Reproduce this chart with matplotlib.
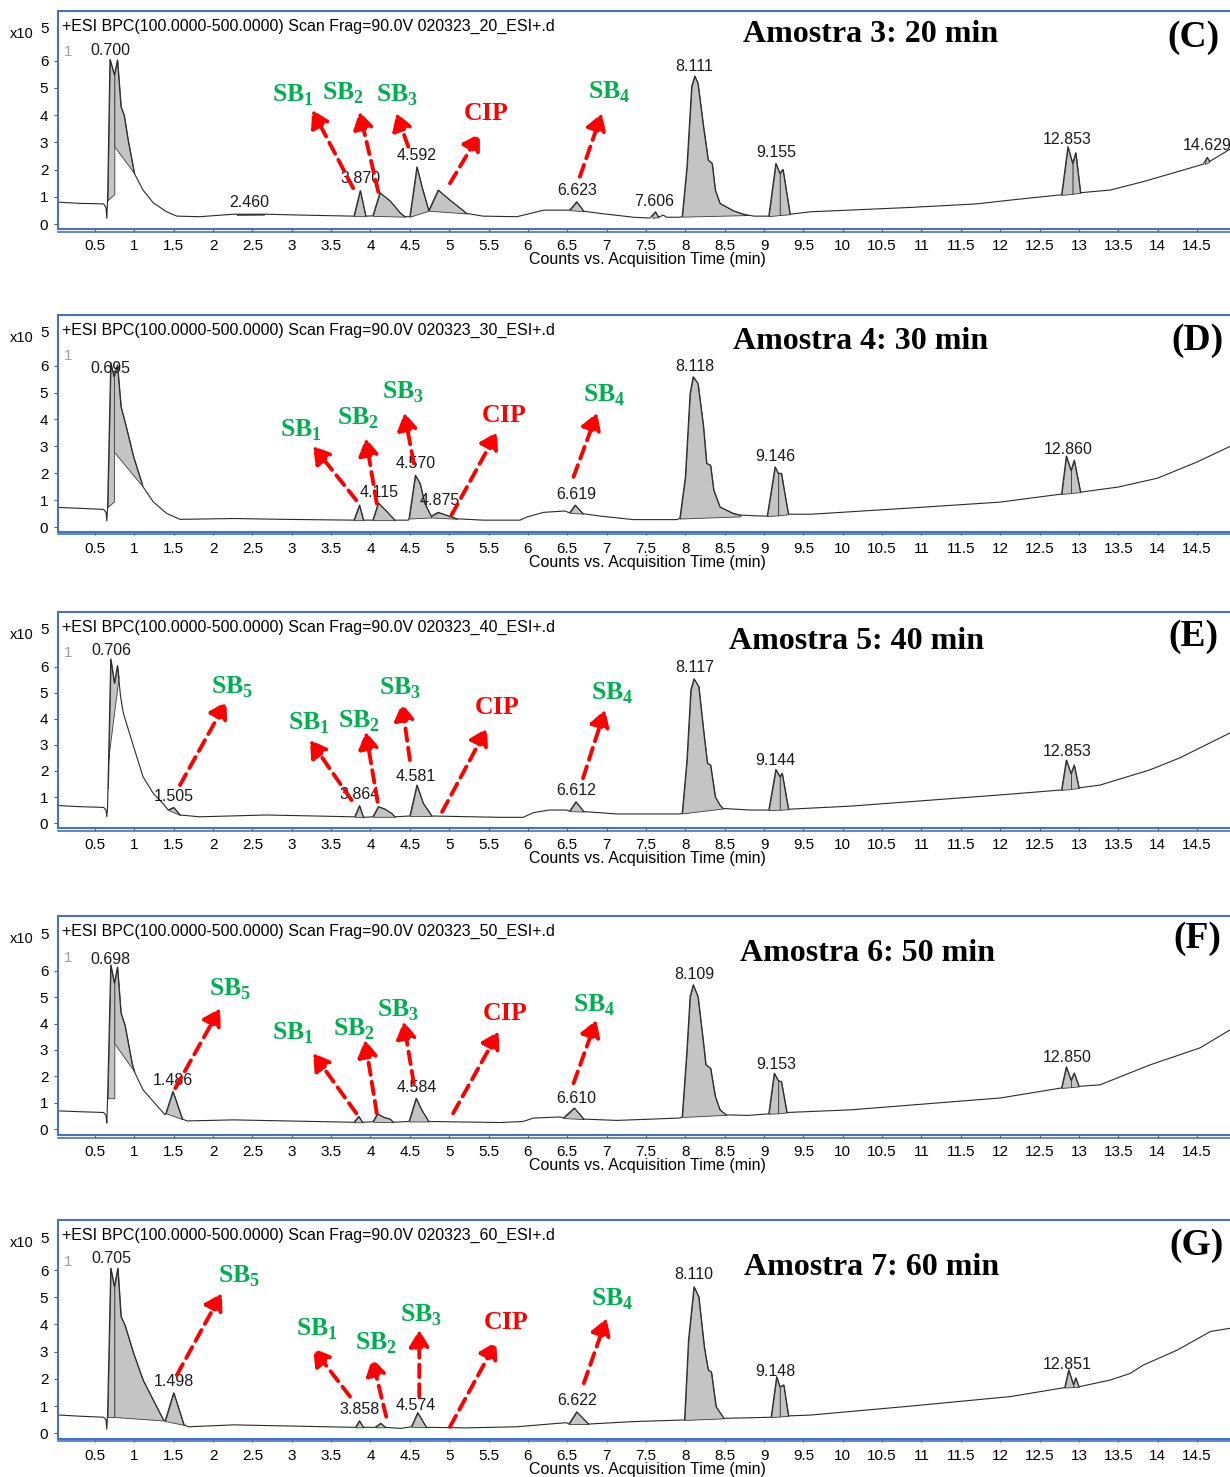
import numpy as np
import matplotlib.pyplot as plt

plt.rcParams['font.family'] = ['Liberation Sans', 'DejaVu Sans']
plt.rcParams['mathtext.fontset'] = 'custom'
plt.rcParams['mathtext.rm'] = 'Liberation Serif'
plt.rcParams['mathtext.bf'] = 'Liberation Serif:bold'

# ---- Amostra 3 (20 min) ----
c_time = [0.05, 0.30, 0.61, 0.64, 0.65, 0.66, 0.69, 0.746, 0.785, 0.83, 0.87, 0.92, 1.00,
          1.11, 1.24, 1.41, 1.54, 1.83, 2.26, 2.68, 3.10, 3.78, 3.79, 3.87, 3.94, 4.03, 4.12,
          4.25, 4.38, 4.44, 4.50, 4.59, 4.66, 4.74, 4.86, 5.01, 5.18, 5.22, 5.43, 5.86, 5.99,
          6.20, 6.49, 6.53, 6.62, 6.71, 6.92, 7.34, 7.55, 7.62, 7.66, 7.72, 7.76, 7.93, 7.96,
          8.02, 8.08, 8.12, 8.16, 8.23, 8.29, 8.34, 8.38, 8.44, 8.61, 8.74, 8.87, 9.06, 9.15,
          9.20, 9.24, 9.33, 9.59, 10.86, 11.70, 12.13, 12.76, 12.78, 12.86, 12.92, 12.96, 13.02,
          13.40, 13.82, 14.25, 14.58, 14.63, 14.66, 14.92, 15.10]
c_counts = [0.80, 0.76, 0.74, 0.60, 0.21, 0.90, 6.05, 5.48, 6.03, 4.31, 4.00, 3.09, 1.86,
            1.25, 0.78, 0.45, 0.29, 0.27, 0.36, 0.36, 0.33, 0.29, 0.29, 1.23, 0.29, 0.30, 1.15,
            0.85, 0.40, 0.27, 0.27, 2.10, 1.30, 0.49, 1.25, 0.88, 0.49, 0.39, 0.29, 0.27, 0.36,
            0.51, 0.51, 0.51, 0.82, 0.47, 0.39, 0.25, 0.22, 0.45, 0.25, 0.33, 0.25, 0.25, 0.27,
            2.10, 5.05, 5.44, 5.17, 3.58, 2.35, 2.23, 1.25, 0.76, 0.49, 0.36, 0.29, 0.29, 2.23,
            1.86, 2.01, 0.36, 0.45, 0.61, 0.74, 0.88, 1.07, 1.07, 2.84, 2.23, 2.62, 1.15,
            1.25, 1.56, 1.92, 2.20, 2.45, 2.30, 2.75, 2.95]
c_peaks = [(0.66, 0.746, 0.88, 1.10), (0.746, 1.00, 2.85, 1.86), (2.30, 2.65, 0.34, 0.35),
           (3.79, 3.94, 0.29, 0.29), (4.03, 4.44, 0.30, 0.27), (4.50, 4.74, 0.27, 0.49),
           (4.74, 5.22, 0.49, 0.39), (6.53, 6.71, 0.51, 0.47), (7.58, 7.66, 0.23, 0.25),
           (7.96, 8.80, 0.27, 0.33), (9.06, 9.20, 0.29, 0.33), (9.20, 9.33, 0.33, 0.36),
           (12.78, 12.92, 1.07, 1.11), (12.92, 13.02, 1.11, 1.15), (14.60, 14.66, 2.20, 2.30)]
c_rt = [0.700, 2.460, 3.870, 4.592, 6.623, 7.606, 8.111, 9.155, 12.853, 14.629]

# ---- Amostra 4 (30 min) ----
d_time = [0.05, 0.30, 0.61, 0.64, 0.65, 0.66, 0.70, 0.74, 0.785, 0.83, 0.88, 0.99, 1.11,
          1.24, 1.41, 1.58, 2.26, 2.89, 3.78, 3.79, 3.86, 3.91, 4.03, 4.10, 4.21, 4.31, 4.48,
          4.49, 4.57, 4.63, 4.69, 4.77, 4.86, 5.10, 5.43, 5.90, 5.99, 6.20, 6.47, 6.53, 6.60,
          6.70, 6.92, 7.34, 7.89, 7.93, 8.00, 8.06, 8.10, 8.16, 8.23, 8.27, 8.32, 8.36, 8.44,
          8.61, 8.70, 8.90, 9.04, 9.14, 9.18, 9.22, 9.27, 9.31, 9.60, 10.80, 12.00, 12.78,
          12.84, 12.90, 12.94, 13.02, 13.50, 14.00, 14.50, 14.92, 15.10]
d_counts = [0.73, 0.70, 0.66, 0.55, 0.23, 0.75, 6.11, 5.59, 6.02, 4.47, 3.92, 2.61, 1.50,
            0.94, 0.51, 0.29, 0.32, 0.29, 0.26, 0.26, 0.82, 0.26, 0.26, 0.90, 0.57, 0.26, 0.26,
            0.32, 1.93, 1.62, 0.88, 0.41, 0.55, 0.31, 0.26, 0.26, 0.38, 0.55, 0.60, 0.53, 0.82,
            0.50, 0.41, 0.28, 0.28, 0.32, 1.87, 4.97, 5.59, 5.34, 3.73, 2.37, 2.30, 1.38, 0.75,
            0.51, 0.45, 0.42, 0.41, 2.24, 2.00, 2.00, 1.13, 0.48, 0.48, 0.70, 0.93, 1.23,
            2.64, 2.10, 2.49, 1.30, 1.49, 1.82, 2.42, 3.00, 3.10]
d_peaks = [(0.66, 0.74, 0.75, 0.95), (0.74, 1.10, 2.80, 1.53), (3.79, 3.91, 0.26, 0.26),
           (4.03, 4.31, 0.26, 0.26), (4.49, 4.77, 0.32, 0.36), (4.77, 5.10, 0.36, 0.31),
           (6.53, 6.70, 0.53, 0.50), (7.93, 8.70, 0.32, 0.40), (9.04, 9.18, 0.41, 0.44),
           (9.18, 9.31, 0.44, 0.48), (12.78, 12.90, 1.23, 1.27), (12.90, 13.02, 1.27, 1.30)]
d_rt = [0.695, 4.115, 4.570, 4.875, 6.619, 8.118, 9.146, 12.860]

# ---- Amostra 5 (40 min) ----
e_time = [0.05, 0.30, 0.61, 0.64, 0.65, 0.66, 0.70, 0.746, 0.785, 0.825, 0.86, 0.99, 1.11,
          1.24, 1.37, 1.43, 1.50, 1.58, 1.83, 2.68, 3.78, 3.80, 3.86, 3.91, 4.03, 4.10, 4.19,
          4.27, 4.31, 4.50, 4.59, 4.67, 4.78, 5.65, 5.94, 6.07, 6.27, 6.49, 6.53, 6.61, 6.71,
          7.13, 7.93, 7.96, 8.02, 8.07, 8.11, 8.17, 8.24, 8.28, 8.32, 8.38, 8.44, 8.48, 8.82,
          9.06, 9.15, 9.20, 9.23, 9.31, 10.10, 12.00, 12.78, 12.84, 12.90, 12.94, 13.00,
          13.27, 13.90, 14.28, 14.92, 15.10]
e_counts = [0.67, 0.63, 0.60, 0.50, 0.24, 0.63, 6.30, 5.37, 6.04, 4.86, 4.22, 2.94, 1.78,
            1.14, 0.73, 0.50, 0.60, 0.31, 0.24, 0.31, 0.24, 0.24, 0.67, 0.22, 0.24, 0.63, 0.53,
            0.37, 0.24, 0.27, 1.46, 0.76, 0.27, 0.22, 0.22, 0.40, 0.50, 0.50, 0.46, 0.82, 0.44,
            0.35, 0.35, 0.37, 2.42, 5.12, 5.54, 5.24, 3.32, 2.30, 2.23, 1.01, 0.69, 0.56, 0.50,
            0.50, 2.06, 1.78, 1.91, 0.53, 0.65, 1.08, 1.27, 2.42, 1.90, 2.23, 1.35,
            1.46, 2.04, 2.50, 3.46, 3.60]
e_peaks = [(0.665, 0.80, 2.40, 5.60), (1.43, 1.58, 0.50, 0.31), (3.80, 3.91, 0.24, 0.22),
           (4.03, 4.31, 0.24, 0.24), (4.50, 4.78, 0.27, 0.27), (6.53, 6.71, 0.46, 0.44),
           (7.96, 8.48, 0.37, 0.56), (9.06, 9.20, 0.50, 0.51), (9.20, 9.31, 0.51, 0.53),
           (12.78, 12.90, 1.27, 1.31), (12.90, 13.00, 1.31, 1.35)]
e_rt = [0.706, 1.505, 3.864, 4.581, 6.612, 8.117, 9.144, 12.853]

# ---- Amostra 6 (50 min) ----
f_time = [0.05, 0.30, 0.61, 0.64, 0.65, 0.66, 0.70, 0.746, 0.785, 0.83, 0.88, 0.97, 1.00,
          1.11, 1.24, 1.39, 1.40, 1.49, 1.61, 1.67, 2.26, 3.78, 3.79, 3.85, 3.90, 4.03, 4.09,
          4.17, 4.25, 4.29, 4.49, 4.58, 4.65, 4.74, 5.65, 5.94, 6.07, 6.41, 6.45, 6.59, 6.71,
          7.13, 7.93, 7.96, 8.02, 8.06, 8.10, 8.16, 8.23, 8.26, 8.32, 8.38, 8.44, 8.52, 8.80,
          9.06, 9.13, 9.18, 9.22, 9.29, 10.10, 12.00, 12.78, 12.84, 12.90, 12.94, 13.00,
          13.27, 13.90, 14.54, 14.92, 15.10]
f_counts = [0.69, 0.66, 0.63, 0.52, 0.23, 1.17, 6.22, 5.53, 6.14, 4.39, 3.95, 2.50, 2.18,
            1.49, 1.05, 0.54, 0.60, 1.43, 0.38, 0.31, 0.35, 0.26, 0.26, 0.48, 0.26, 0.28, 0.58,
            0.45, 0.38, 0.26, 0.29, 1.17, 0.73, 0.29, 0.25, 0.29, 0.42, 0.46, 0.42, 0.80, 0.38,
            0.33, 0.42, 0.46, 3.00, 5.02, 5.47, 5.02, 3.26, 2.44, 2.31, 1.24, 0.73, 0.54, 0.52,
            0.58, 2.12, 1.84, 1.80, 0.63, 0.73, 1.18, 1.56, 2.36, 1.85, 2.13, 1.62,
            1.68, 2.43, 3.08, 3.76, 3.90]
f_peaks = [(0.66, 0.746, 1.17, 1.17), (0.746, 1.00, 3.25, 2.18), (1.40, 1.61, 0.60, 0.38),
           (3.79, 3.90, 0.26, 0.26), (4.03, 4.29, 0.28, 0.26), (4.49, 4.74, 0.29, 0.29),
           (6.45, 6.71, 0.42, 0.38), (7.96, 8.52, 0.46, 0.54), (9.06, 9.18, 0.58, 0.60),
           (9.18, 9.29, 0.60, 0.63), (12.78, 12.90, 1.56, 1.59), (12.90, 13.00, 1.59, 1.62)]
f_rt = [0.698, 1.486, 4.584, 6.610, 8.109, 9.153, 12.850]

# ---- Amostra 7 (60 min) ----
g_time = [0.05, 0.30, 0.61, 0.64, 0.65, 0.66, 0.70, 0.746, 0.79, 0.83, 0.88, 0.99, 1.11,
          1.24, 1.37, 1.39, 1.50, 1.63, 1.69, 2.26, 3.78, 3.81, 3.86, 3.91, 4.06, 4.13, 4.19,
          4.38, 4.52, 4.60, 4.71, 5.22, 5.86, 6.27, 6.49, 6.52, 6.62, 6.77, 7.34, 7.98, 7.99,
          8.04, 8.11, 8.17, 8.24, 8.29, 8.33, 8.39, 8.49, 8.80, 9.09, 9.16, 9.20, 9.25, 9.31,
          9.59, 10.86, 12.13, 12.82, 12.87, 12.93, 12.96, 13.00, 13.40, 13.65, 13.82, 14.25,
          14.67, 14.92, 15.10]
g_counts = [0.67, 0.63, 0.59, 0.50, 0.15, 0.74, 6.07, 5.39, 6.07, 4.29, 3.98, 2.94, 1.96,
            1.22, 0.49, 0.45, 1.49, 0.31, 0.24, 0.31, 0.22, 0.22, 0.46, 0.22, 0.22, 0.37, 0.22,
            0.18, 0.24, 0.76, 0.22, 0.20, 0.24, 0.34, 0.39, 0.34, 0.79, 0.34, 0.43, 0.49, 0.49,
            3.43, 5.39, 5.02, 3.18, 2.33, 2.26, 0.98, 0.55, 0.57, 0.59, 2.08, 1.71, 1.78, 0.64,
            0.67, 1.00, 1.35, 1.68, 2.33, 1.79, 2.04, 1.71, 1.96, 2.20, 2.51, 3.06,
            3.74, 3.86, 3.95]
g_peaks = [(0.66, 0.746, 0.60, 0.60), (0.746, 1.37, 0.60, 0.47), (1.39, 1.63, 0.45, 0.31),
           (3.81, 3.91, 0.22, 0.22), (4.06, 4.19, 0.22, 0.22), (4.52, 4.71, 0.24, 0.22),
           (6.52, 6.77, 0.34, 0.34), (7.99, 8.49, 0.49, 0.55), (9.09, 9.20, 0.59, 0.62),
           (9.20, 9.31, 0.62, 0.64), (12.82, 12.93, 1.68, 1.70), (12.93, 13.00, 1.70, 1.71)]
g_rt = [0.705, 1.498, 3.858, 4.574, 6.622, 8.110, 9.148, 12.851]

# annotation layout: (name, subscript, label pos, arrow tail, arrow head) in data coords
c_notes = [('SB', '1', (3.02, 4.74), (3.78, 1.32), (3.26, 4.19)),
           ('SB', '2', (3.65, 4.80), (4.10, 1.18), (3.86, 4.13)),
           ('SB', '3', (4.34, 4.74), (4.48, 2.84), (4.33, 4.08)),
           ('CIP', '', (5.47, 4.08), (5.01, 1.50), (5.39, 3.33)),
           ('SB', '4', (7.03, 4.85), (6.66, 1.74), (6.94, 4.07))]
d_notes = [('SB', '1', (3.12, 3.60), (3.82, 1.00), (3.27, 3.01)),
           ('SB', '2', (3.84, 4.05), (4.08, 0.88), (3.94, 3.30)),
           ('SB', '3', (4.41, 5.02), (4.55, 2.37), (4.43, 4.25)),
           ('CIP', '', (5.69, 4.16), (5.03, 0.45), (5.61, 3.54)),
           ('SB', '4', (6.97, 4.90), (6.58, 1.87), (6.88, 4.25))]
e_notes = [('SB', '5', (2.24, 5.23), (1.58, 1.46), (2.17, 4.67)),
           ('SB', '1', (3.22, 3.85), (3.76, 0.88), (3.23, 3.19)),
           ('SB', '2', (3.85, 3.92), (4.09, 0.82), (3.94, 3.51)),
           ('SB', '3', (4.38, 5.19), (4.50, 2.42), (4.40, 4.60)),
           ('CIP', '', (5.61, 4.46), (4.91, 0.43), (5.48, 3.64)),
           ('SB', '4', (7.07, 5.00), (6.70, 1.72), (6.98, 4.35))]
f_notes = [('SB', '5', (2.22, 5.30), (1.52, 1.55), (2.09, 4.58)),
           ('SB', '1', (3.02, 3.65), (3.82, 0.60), (3.27, 2.88)),
           ('SB', '2', (3.79, 3.80), (4.08, 0.60), (3.93, 3.38)),
           ('SB', '3', (4.35, 4.50), (4.55, 1.74), (4.42, 4.08)),
           ('CIP', '', (5.71, 4.39), (5.05, 0.60), (5.63, 3.70)),
           ('SB', '4', (6.84, 4.70), (6.58, 1.74), (6.87, 4.14))]
g_notes = [('SB', '5', (2.33, 5.76), (1.54, 2.14), (2.11, 5.15)),
           ('SB', '1', (3.32, 3.84), (3.74, 1.35), (3.27, 3.12)),
           ('SB', '2', (4.07, 3.32), (4.20, 0.61), (4.02, 2.76)),
           ('SB', '3', (4.64, 4.35), (4.62, 1.35), (4.62, 3.80)),
           ('CIP', '', (5.72, 4.09), (5.01, 0.24), (5.60, 3.37)),
           ('SB', '4', (7.07, 4.93), (6.71, 1.84), (7.00, 4.23))]

panels = [
    dict(time=c_time, counts=c_counts, peaks=c_peaks, rt=c_rt, notes=c_notes, run='20',
         title='Amostra 3: 20 min', title_xy=(10.35, 6.95), tag='(C)', tag_xy=(14.46, 6.87),
         rect=[0.04715, 0.8450, 0.958, 0.1476], ylim=(-0.18, 7.83)),
    dict(time=d_time, counts=d_counts, peaks=d_peaks, rt=d_rt, notes=d_notes, run='30',
         title='Amostra 4: 30 min', title_xy=(10.22, 6.90), tag='(D)', tag_xy=(14.50, 6.95),
         rect=[0.04715, 0.6400, 0.958, 0.1467], ylim=(-0.17, 7.88)),
    dict(time=e_time, counts=e_counts, peaks=e_peaks, rt=e_rt, notes=e_notes, run='40',
         title='Amostra 5: 40 min', title_xy=(10.18, 6.96), tag='(E)', tag_xy=(14.45, 7.15),
         rect=[0.04715, 0.4394, 0.958, 0.1462], ylim=(-0.19, 8.10)),
    dict(time=f_time, counts=f_counts, peaks=f_peaks, rt=f_rt, notes=f_notes, run='50',
         title='Amostra 6: 50 min', title_xy=(10.31, 6.64), tag='(F)', tag_xy=(14.50, 7.24),
         rect=[0.04715, 0.2316, 0.958, 0.1483], ylim=(-0.22, 8.08)),
    dict(time=g_time, counts=g_counts, peaks=g_peaks, rt=g_rt, notes=g_notes, run='60',
         title='Amostra 7: 60 min', title_xy=(10.37, 6.08), tag='(G)', tag_xy=(14.50, 6.92),
         rect=[0.04715, 0.0259, 0.958, 0.1481], ylim=(-0.20, 7.84)),
]

BLUE = '#4472C4'
GREEN = '#00B050'
RED = '#FF0000'

fig = plt.figure(figsize=(12.3, 14.77), dpi=100)

for p in panels:
    ax = fig.add_axes(p['rect'])
    t = np.array(p['time'])
    v = np.array(p['counts'])

    # integrated peaks: grey area between trace and the integration baseline
    for t0, t1, b0, b1 in p['peaks']:
        tt = np.concatenate([[t0], t[(t > t0) & (t < t1)], [t1]])
        top = np.interp(tt, t, v)
        base = np.interp(tt, [t0, t1], [b0, b1])
        ax.fill_between(tt, base, top, facecolor='#c4c4c4', edgecolor='#3c3c3c',
                        lw=0.6, zorder=2)
    ax.plot(t, v, color='#2a2a2a', lw=0.8, zorder=3)

    # retention time labels
    for rt in p['rt']:
        ax.annotate(f'{rt:.3f}', xy=(rt, np.interp(rt, t, v)), xytext=(0, 8.5),
                    textcoords='offset points', ha='center', va='center',
                    fontsize=11.5, color='#1a1a1a', zorder=5)

    # compound labels with red dashed arrows
    for name, sub, lab, tail, head in p['notes']:
        ax.annotate('', xy=head, xytext=tail,
                    arrowprops=dict(arrowstyle='-|>,head_length=0.5,head_width=0.3',
                                    color=RED, lw=2.8, linestyle=(0, (3.2, 1.8)),
                                    shrinkA=0, shrinkB=0, mutation_scale=20), zorder=6)
        if sub:
            txt = r'$\mathbf{' + name + r'}_{\mathbf{' + sub + r'}}$'
            col = GREEN
        else:
            txt = r'$\mathbf{' + name + r'}$'
            col = RED
        ax.text(lab[0], lab[1], txt, color=col, fontsize=18.5, ha='center', va='center', zorder=6)

    ax.text(*p['title_xy'], p['title'], family='Liberation Serif', weight='bold',
            fontsize=23, ha='center', va='center')
    ax.text(*p['tag_xy'], p['tag'], family='Liberation Serif', weight='bold',
            fontsize=27, ha='center', va='center')

    ax.text(0.0034, 0.93, '+ESI BPC(100.0000-500.0000) Scan Frag=90.0V 020323_'
            + p['run'] + '_ESI+.d', transform=ax.transAxes, fontsize=11.5, va='center')
    ax.text(0.005, 0.81, '1', transform=ax.transAxes, fontsize=11, color='#a0a0a0', va='center')
    ax.text(-0.031, 0.895, 'x10', transform=ax.transAxes, fontsize=10.5, ha='center', va='center')
    ax.text(-0.011, 0.915, '5', transform=ax.transAxes, fontsize=11, ha='center', va='center')

    ax.set_xlim(0.03, 15.0)
    ax.set_ylim(*p['ylim'])
    xt = np.arange(0.5, 15.0, 0.5)
    ax.set_xticks(xt)
    ax.set_xticklabels([f'{x:g}' for x in xt])
    ax.set_yticks(range(7))
    ax.tick_params(axis='x', direction='out', length=2.5, pad=5, labelsize=11, color='#555555')
    ax.tick_params(axis='y', direction='out', length=3, pad=4, labelsize=11, color='#555555')
    ax.set_xlabel('Counts vs. Acquisition Time (min)', fontsize=11.5, labelpad=-1)
    for s in ax.spines.values():
        s.set_color(BLUE)
        s.set_linewidth(1.5)
    ax.plot([0, 1], [-0.012, -0.012], transform=ax.transAxes, color=BLUE, lw=1.2,
            clip_on=False)

fig.savefig('out.png', dpi=100)
